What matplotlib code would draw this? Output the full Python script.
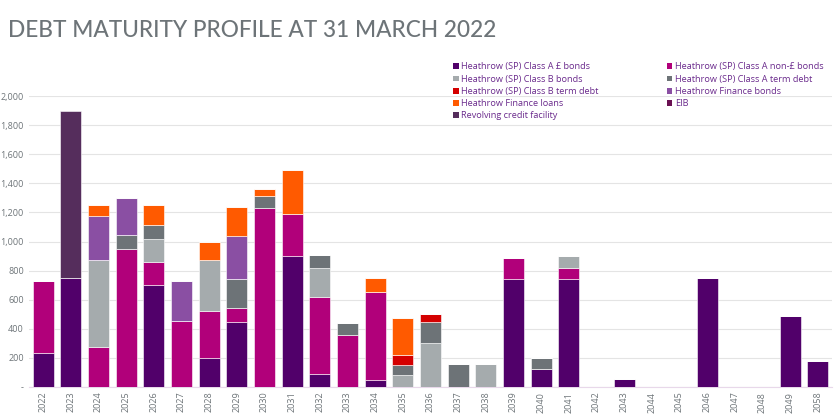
import numpy as np
import matplotlib.pyplot as plt
from matplotlib.patches import Patch

years = [str(y) for y in range(2022, 2050)] + ['2058']

# £m, one list per debt type (order = stacking order)
class_a_gbp = [230, 750, 0, 0, 700, 0, 200, 445, 0, 900, 90, 0, 50, 0, 0, 0, 0, 740, 120, 745, 0, 55, 0, 0, 750, 0, 0, 490, 175]
class_a_nongbp = [500, 0, 275, 950, 160, 455, 320, 95, 1230, 290, 530, 360, 600, 0, 0, 0, 0, 145, 0, 70, 0, 0, 0, 0, 0, 0, 0, 0, 0]
class_b_bonds = [0, 0, 600, 0, 155, 0, 350, 0, 0, 0, 200, 0, 0, 80, 300, 0, 160, 0, 0, 85, 0, 0, 0, 0, 0, 0, 0, 0, 0]
class_a_term = [0, 0, 0, 95, 100, 0, 0, 205, 80, 0, 90, 80, 0, 70, 145, 160, 0, 0, 80, 0, 0, 0, 0, 0, 0, 0, 0, 0, 0]
class_b_term = [0, 0, 0, 0, 0, 0, 0, 0, 0, 0, 0, 0, 0, 70, 55, 0, 0, 0, 0, 0, 0, 0, 0, 0, 0, 0, 0, 0, 0]
hf_bonds = [0, 0, 300, 255, 0, 275, 0, 295, 0, 0, 0, 0, 0, 0, 0, 0, 0, 0, 0, 0, 0, 0, 0, 0, 0, 0, 0, 0, 0]
hf_loans = [0, 0, 75, 0, 135, 0, 130, 200, 50, 300, 0, 0, 100, 255, 0, 0, 0, 0, 0, 0, 0, 0, 0, 0, 0, 0, 0, 0, 0]
eib = [0] * 29
rcf = [0, 1150, 0, 0, 0, 0, 0, 0, 0, 0, 0, 0, 0, 0, 0, 0, 0, 0, 0, 0, 0, 0, 0, 0, 0, 0, 0, 0, 0]

series = [
    ('Heathrow (SP) Class A £ bonds', class_a_gbp, '#51006a'),
    ('Heathrow (SP) Class A non-£ bonds', class_a_nongbp, '#b1007a'),
    ('Heathrow (SP) Class B bonds', class_b_bonds, '#a5abad'),
    ('Heathrow (SP) Class A term debt', class_a_term, '#6d7377'),
    ('Heathrow (SP) Class B term debt', class_b_term, '#d40000'),
    ('Heathrow Finance bonds', hf_bonds, '#8a4fa3'),
    ('Heathrow Finance loans', hf_loans, '#ff5a00'),
    ('EIB', eib, '#6a1052'),
    ('Revolving credit facility', rcf, '#552d5c'),
]

grey = '#6d7478'
purple_txt = '#6a2a8c'

plt.rcParams['font.family'] = ['Open Sans', 'DejaVu Sans']

fig = plt.figure(figsize=(8.4, 4.2), dpi=100)
ax = fig.add_axes([0.035, 0.079, 0.955, 0.692])

x = np.arange(len(years))
bottom = np.zeros(len(years))
for name, vals, col in series:
    vals = np.array(vals, dtype=float)
    ax.bar(x, vals, bottom=bottom, width=0.76, color=col, edgecolor='white', linewidth=0.4, zorder=3)
    bottom += vals

ax.set_xlim(-0.5, len(years) - 0.5)
ax.set_ylim(0, 2000)
ax.set_yticks(range(0, 2001, 200))
ax.set_yticklabels(['-'] + [f'{v:,}' for v in range(200, 2001, 200)])
ax.set_xticks(x)
ax.set_xticklabels(years, rotation=90)
ax.tick_params(axis='both', length=0, labelsize=6.5, labelcolor=grey)
ax.tick_params(axis='y', pad=4)
ax.grid(axis='y', color='#e4e4e4', linewidth=0.8, zorder=0)
for s in ['top', 'right', 'left']:
    ax.spines[s].set_visible(False)
ax.spines['bottom'].set_color('#e8d8ea')

fig.text(0.01, 0.913, 'DEBT MATURITY PROFILE AT 31 MARCH 2022', fontsize=16.3,
         color=grey, family=['Lato', 'DejaVu Sans'], weight='medium')

handles = [Patch(facecolor=c, label=n) for n, v, c in series]
order = [0, 2, 4, 6, 8, 1, 3, 5, 7]
leg = fig.legend([handles[i] for i in order], [handles[i].get_label() for i in order],
                 ncol=2, loc='upper left', bbox_to_anchor=(0.535, 0.86), frameon=False,
                 fontsize=6.6, handlelength=0.6, handleheight=0.6, handletextpad=0.3,
                 labelspacing=0.35, columnspacing=7.4, borderaxespad=0)
for t in leg.get_texts():
    t.set_color(purple_txt)

fig.savefig('out.png', dpi=100)
